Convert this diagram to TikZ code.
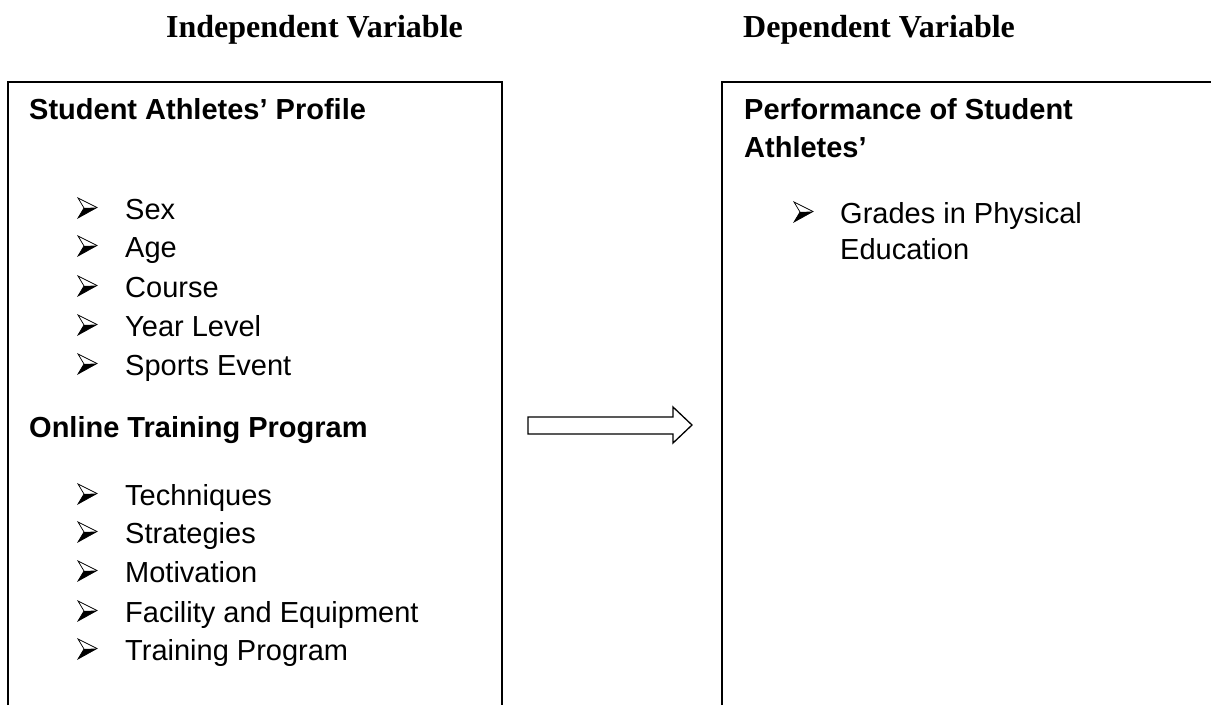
\documentclass[tikz,border=0pt]{standalone}
\usepackage{fontspec}
\setmainfont{Liberation Sans}
\newfontfamily\titlefont{Liberation Serif}
\begin{document}
\begin{tikzpicture}[x=1pt,y=-1pt,
  titletext/.style={font=\titlefont\bfseries\fontsize{32}{38}\selectfont, anchor=base west, inner sep=0pt},
  headtext/.style={font=\bfseries\fontsize{29}{38}\selectfont, anchor=base west, inner sep=0pt},
  itemtext/.style={font=\fontsize{29}{38}\selectfont, anchor=base west, inner sep=0pt},
  frameline/.style={line width=1.5pt, draw=black},
  blockarrow/.style={line width=1.3pt, draw=black, fill=white, line join=miter},
  pics/bul/.style={code={
    \fill[black] (6,-10) -- (19,-10.5) -- (0,0) -- cycle;
    \draw[line width=0.7pt, line join=miter] (0,-20) -- (19,-10.5) -- (0,0) -- (6,-10) -- cycle;
  }}
]
\useasboundingbox (0,0) rectangle (1211,705);
\fill[white] (0,0) rectangle (1211,705);

% titles
\node[titletext] (indep) at (166,37) {Independent Variable};
\node[titletext] (dep) at (743,37) {Dependent Variable};

% boxes (open at the bottom)
\coordinate (lbl) at (8,705);
\coordinate (ltl) at (8,82);
\coordinate (ltr) at (502,82);
\coordinate (lbr) at (502,705);
\draw[frameline] (lbl) -- (ltl) -- (ltr) -- (lbr);
\coordinate (rbl) at (722,705);
\coordinate (rtl) at (722,82);
\coordinate (rtr) at (1212,82);
\draw[frameline] (rbl) -- (rtl) -- (rtr);

% left box content
\node[headtext] (profile) at (29,119) {Student Athletes’ Profile};
\foreach \t/\y/\n in {Sex/219/a1, Age/257/a2, Course/297/a3, Year Level/336/a4, Sports Event/375/a5,
                      Techniques/505/b1, Strategies/543/b2, Motivation/582/b3, Facility and Equipment/622/b4, Training Program/660/b5}{
  \pic at (78,\y-1) {bul};
  \node[itemtext] (\n) at (125,\y) {\t};
}
\node[headtext] (online) at (29,437) {Online Training Program};

% right box content
\node[headtext] (perf1) at (744,119) {Performance of Student};
\node[headtext] (perf2) at (744,157) {Athletes’};
\pic at (794,222) {bul};
\node[itemtext] (grades1) at (840,223) {Grades in Physical};
\node[itemtext] (grades2) at (840,259) {Education};

% hollow block arrow
\coordinate (a1) at (528,417);
\coordinate (a2) at (673,417);
\coordinate (a3) at (673,407);
\coordinate (a4) at (692,425);
\coordinate (a5) at (673,443);
\coordinate (a6) at (673,434);
\coordinate (a7) at (528,434);
\draw[blockarrow] (a1) -- (a2) -- (a3) -- (a4) -- (a5) -- (a6) -- (a7) -- cycle;
\end{tikzpicture}
\end{document}
